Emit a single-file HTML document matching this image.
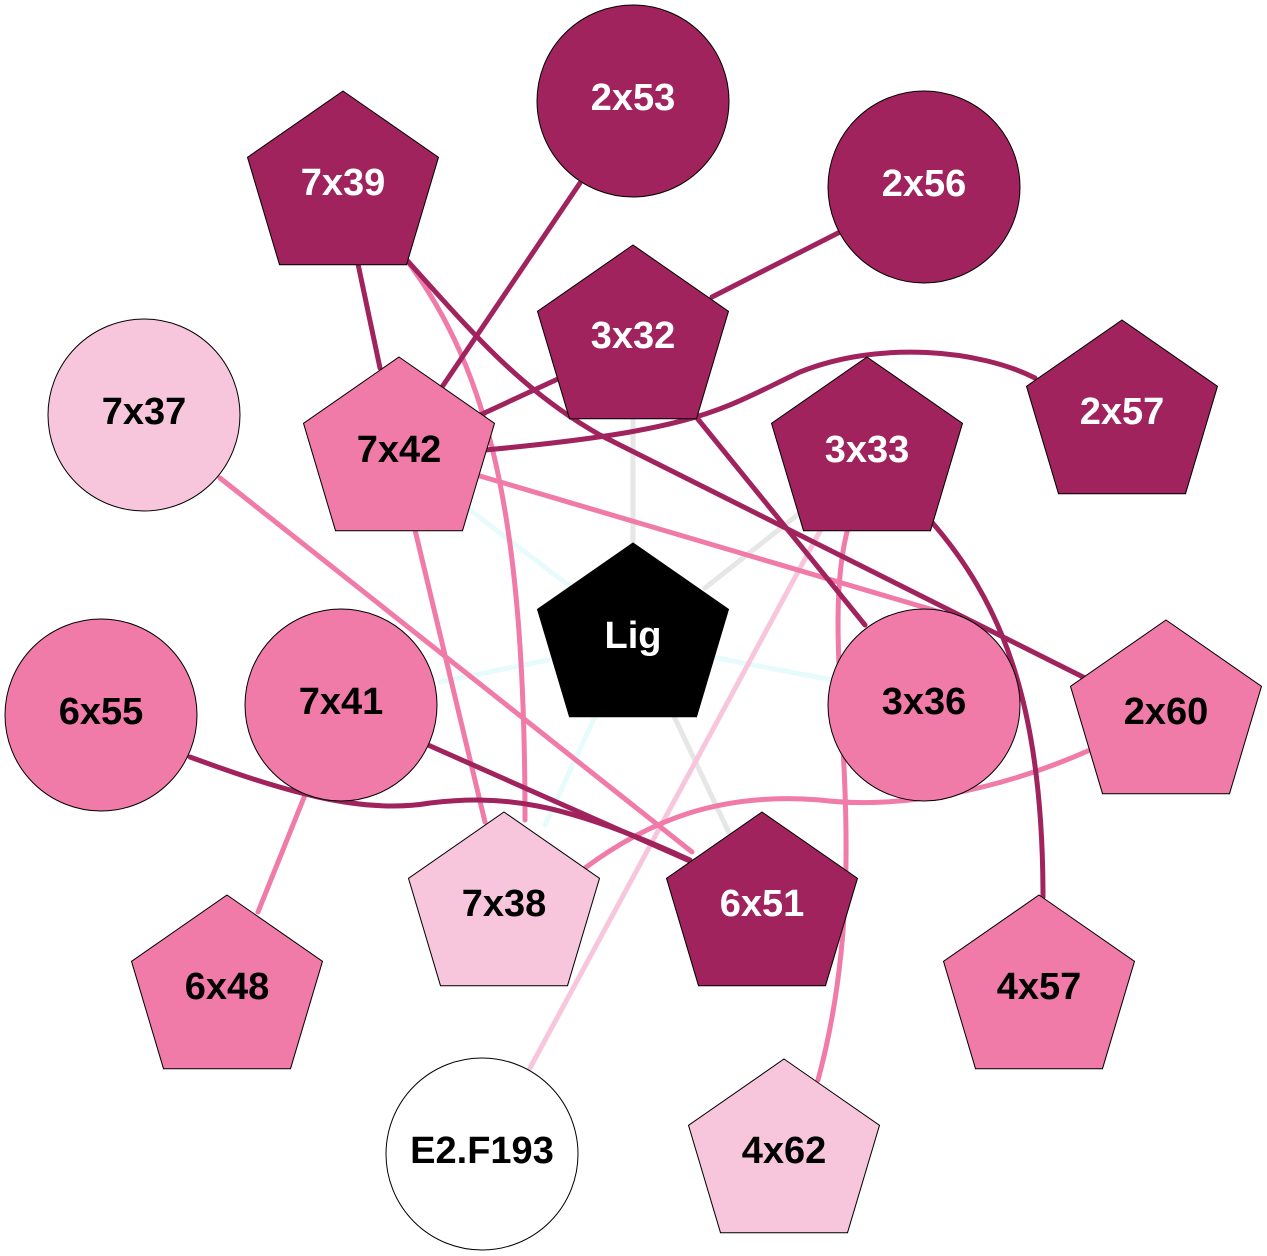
<!DOCTYPE html>
<html><head><meta charset="utf-8"><style>html,body{margin:0;padding:0;background:#fff}svg{display:block}</style></head>
<body>
<svg width="1267" height="1256" viewBox="0 0 1267 1256" xmlns="http://www.w3.org/2000/svg">
<defs>
<polygon id="pg" points="0,-96 95.5,-29.7 63.5,77.7 -63.5,77.7 -95.5,-29.7"/>
</defs>
<g fill="none" stroke-width="5" stroke-linecap="round">
<g stroke="#e6e6e6">
<line x1="633" y1="418" x2="633" y2="548"/>
<line x1="810" y1="505" x2="705" y2="588"/>
<line x1="672" y1="712" x2="730" y2="835"/>
</g>
<g stroke="#e8fbfc">
<line x1="470" y1="510" x2="572" y2="588"/>
<line x1="548" y1="660" x2="440" y2="682"/>
<line x1="712" y1="657" x2="832" y2="680"/>
<line x1="597" y1="712" x2="545" y2="825"/>
</g>
<line x1="826" y1="520" x2="530" y2="1068" stroke="#f8c6dc"/>
<g stroke="#f07aa8">
<line x1="220" y1="478" x2="692" y2="852"/>
<line x1="415" y1="530" x2="485" y2="822"/>
<line x1="305" y1="795" x2="258" y2="912"/>
<line x1="480" y1="476" x2="940" y2="612"/>
<path d="M405 258 C 490 370, 525 520, 525 820"/>
<path d="M848 528 C 815 650, 880 850, 818 1080"/>
<path d="M1090 750 C 1000 790, 900 810, 820 800 C 720 792, 650 820, 585 868"/>
</g>
<g stroke="#a0235e">
<line x1="580" y1="183" x2="440" y2="390"/>
<line x1="840" y1="232" x2="712" y2="297"/>
<line x1="358" y1="264" x2="380" y2="368"/>
<line x1="560" y1="378" x2="480" y2="415"/>
<line x1="697" y1="418" x2="865" y2="625"/>
<line x1="428" y1="745" x2="692" y2="862"/>
<path d="M405 258 C 470 330, 520 390, 600 435 L 1085 678"/>
<path d="M485 450 C 700 430, 720 410, 800 372 C 880 340, 980 350, 1035 378"/>
<path d="M930 520 C 1000 600, 1043 700, 1043 897"/>
<path d="M190 757 C 280 790, 360 815, 430 803 C 500 795, 560 800, 690 860"/>
</g>
</g>
<g stroke="#000" stroke-width="1">
<circle cx="633" cy="101" r="96" fill="#a0235e"/>
<circle cx="924" cy="187" r="96" fill="#a0235e"/>
<circle cx="144" cy="415" r="96" fill="#f8c6dc"/>
<circle cx="101" cy="715" r="96" fill="#f07aa8"/>
<circle cx="341" cy="705" r="96" fill="#f07aa8"/>
<circle cx="924" cy="705" r="96" fill="#f07aa8"/>
<circle cx="482" cy="1154" r="96" fill="#fff"/>
<use href="#pg" x="343" y="187" fill="#a0235e"/>
<use href="#pg" x="633" y="341" fill="#a0235e"/>
<use href="#pg" x="399" y="453" fill="#f07aa8"/>
<use href="#pg" x="867" y="453" fill="#a0235e"/>
<use href="#pg" x="1122" y="416" fill="#a0235e"/>
<use href="#pg" x="633" y="639" fill="#000"/>
<use href="#pg" x="1166" y="716" fill="#f07aa8"/>
<use href="#pg" x="504" y="908" fill="#f8c6dc"/>
<use href="#pg" x="762" y="908" fill="#a0235e"/>
<use href="#pg" x="227" y="991" fill="#f07aa8"/>
<use href="#pg" x="1039" y="991" fill="#f07aa8"/>
<use href="#pg" x="784" y="1155" fill="#f8c6dc"/>
</g>
<g font-family="Liberation Sans, sans-serif" font-weight="bold" font-size="38" text-anchor="middle" dominant-baseline="central">
<text x="633" y="98" fill="#fff">2x53</text>
<text x="924" y="184" fill="#fff">2x56</text>
<text x="343" y="183" fill="#fff">7x39</text>
<text x="633" y="336" fill="#fff">3x32</text>
<text x="144" y="412" fill="#000">7x37</text>
<text x="399" y="450" fill="#000">7x42</text>
<text x="867" y="450" fill="#fff">3x33</text>
<text x="1122" y="412" fill="#fff">2x57</text>
<text x="633" y="636" fill="#fff">Lig</text>
<text x="101" y="712" fill="#000">6x55</text>
<text x="341" y="702" fill="#000">7x41</text>
<text x="924" y="702" fill="#000">3x36</text>
<text x="1166" y="712" fill="#000">2x60</text>
<text x="504" y="904" fill="#000">7x38</text>
<text x="762" y="904" fill="#fff">6x51</text>
<text x="227" y="987" fill="#000">6x48</text>
<text x="1039" y="987" fill="#000">4x57</text>
<text x="482" y="1151" fill="#000">E2.F193</text>
<text x="784" y="1151" fill="#000">4x62</text>
</g>
</svg>
</body></html>
